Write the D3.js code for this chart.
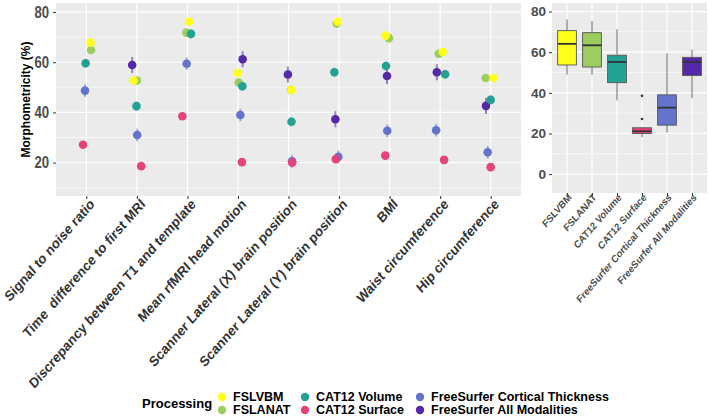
<!DOCTYPE html>
<html>
<head>
<meta charset="utf-8">
<script src="https://cdn.jsdelivr.net/npm/d3@7"></script>
<style>
  body { margin: 0; background: #fff; }
  text { font-family: "Liberation Sans", Arial, sans-serif; white-space: pre; }
</style>
</head>
<body>
<div id="chart"></div>
<script>
// covariates on the left panel
const covariates = [
  "Signal to noise ratio",
  "Time  difference to first MRI",
  "Discrepancy between T1 and template",
  "Mean rfMRI head motion",
  "Scanner Lateral (X) brain position",
  "Scanner Lateral (Y) brain position",
  "BMI",
  "Waist circumference",
  "Hip circumference"
];

const processing = [
  "FSLVBM",
  "FSLANAT",
  "CAT12 Volume",
  "CAT12 Surface",
  "FreeSurfer Cortical Thickness",
  "FreeSurfer All Modalities"
];

const colors = ["#FFFF1C", "#9BCD5F", "#23A294", "#E6437C", "#6573CD", "#5428A8"];

// morphometricity (%) per covariate, one array per processing
const fslvbm       = [67.8, 52.7, 76.1, 55.7, 49.0, 76.1, 70.6, 64.1, 53.7];
const fslanat      = [64.9, 52.7, 71.8, 51.9, 49.0, 75.4, 69.6, 63.4, 53.7];
const cat12Volume  = [59.6, 42.5, 71.3, 50.4, 36.3, 56.0, 58.5, 55.2, 45.0];
const cat12Surface = [27.1, 18.6, 38.5, 20.2, 20.0, 21.4, 22.8, 21.1, 18.2];
const fsThickness  = [48.7, 31.0, 59.4, 39.0, 20.5, 22.3, 32.7, 32.9, 24.1];
const fsAll        = [null, 58.9, null, 61.2, 55.1, 37.3, 54.5, 56.0, 42.6];

// standard error (half length of the bars)
const stdErr = [1.5, 1.5, 1.8, 1.2, 2.5, 3.2];

// horizontal jitter, in fractions of a category step
const jitFslvbm       = [0.085, -0.06, 0.032, 0, 0.059, -0.026, -0.079, 0.053, 0.059];
const jitFslanat      = [0.093, 0, -0.02, 0.014, 0.05, -0.046, -0.012, -0.026, -0.099];
const jitCat12Volume  = [-0.014, -0.008, 0.071, 0.087, 0.059, -0.093, -0.071, 0.099, 0];
const jitCat12Surface = [-0.065, 0.085, -0.1, 0.079, 0.073, -0.065, -0.085, 0.079, 0];
const jitFsThickness  = [-0.026, 0.006, -0.014, 0.048, 0.07, -0.014, -0.046, -0.079, -0.059];
const jitFsAll        = [0, -0.093, 0, 0.093, -0.012, -0.073, -0.051, -0.065, -0.093];

const leftTicks = [20, 40, 60, 80];
const leftMinor = [10, 30, 50, 70];
const rightTicks = [0, 20, 40, 60, 80];
const rightMinor = [10, 30, 50, 70];

const values = [fslvbm, fslanat, cat12Volume, cat12Surface, fsThickness, fsAll];
const jitters = [jitFslvbm, jitFslanat, jitCat12Volume, jitCat12Surface, jitFsThickness, jitFsAll];

const width = 709, height = 418;
const bg = "#EBEBEB", tickCol = "#4D4D4D";

const svg = d3.select("#chart").append("svg")
  .attr("width", width)
  .attr("height", height);

// ---------- left panel ----------
const L = {left: 56, right: 521, top: 3, bottom: 196};

const xL = d3.scalePoint().domain(covariates).range([L.left, L.right]).padding(0.6);
const yL = d3.scaleLinear().domain([6.7, 83.6]).range([L.bottom, L.top]);

svg.append("rect")
  .attr("x", L.left).attr("y", L.top)
  .attr("width", L.right - L.left).attr("height", L.bottom - L.top)
  .attr("fill", bg);

svg.append("g").selectAll("line").data(leftMinor).join("line")
  .attr("x1", L.left).attr("x2", L.right)
  .attr("y1", d => yL(d)).attr("y2", d => yL(d))
  .attr("stroke", "#fff").attr("stroke-width", 0.6);
svg.append("g").selectAll("line").data(leftTicks).join("line")
  .attr("x1", L.left).attr("x2", L.right)
  .attr("y1", d => yL(d)).attr("y2", d => yL(d))
  .attr("stroke", "#fff").attr("stroke-width", 1.2);
svg.append("g").selectAll("line").data(covariates).join("line")
  .attr("x1", d => xL(d)).attr("x2", d => xL(d))
  .attr("y1", L.top).attr("y2", L.bottom)
  .attr("stroke", "#fff").attr("stroke-width", 1.2);

// flatten points
const pts = [];
const drawOrder = [5, 4, 1, 2, 0, 3];
drawOrder.forEach(s => {
  covariates.forEach((c, i) => {
    const v = values[s][i];
    if (v == null) return;
    pts.push({s, c, v, j: jitters[s][i]});
  });
});

const step = xL.step();

svg.append("g").selectAll("line").data(pts).join("line")
  .attr("x1", d => xL(d.c) + d.j * step)
  .attr("x2", d => xL(d.c) + d.j * step)
  .attr("y1", d => yL(d.v - stdErr[d.s]))
  .attr("y2", d => yL(d.v + stdErr[d.s]))
  .attr("stroke", d => colors[d.s])
  .attr("stroke-opacity", 0.55)
  .attr("stroke-width", 2);

svg.append("g").selectAll("circle").data(pts).join("circle")
  .attr("cx", d => xL(d.c) + d.j * step)
  .attr("cy", d => yL(d.v))
  .attr("r", 4.3)
  .attr("fill", d => colors[d.s]);

const axL = svg.append("g")
  .attr("transform", `translate(${L.left},0)`)
  .call(d3.axisLeft(yL).tickValues(leftTicks).tickSize(3).tickPadding(3));
axL.select(".domain").remove();
axL.selectAll("line").attr("stroke", "#333");
axL.selectAll("text")
  .attr("fill", tickCol)
  .attr("font-size", 16)
  .attr("font-weight", "bold")
  .attr("font-family", "Liberation Sans, Arial, sans-serif")
  .attr("transform", "translate(-2,0) scale(0.82,1)");

const axLb = svg.append("g")
  .attr("transform", `translate(0,${L.bottom})`)
  .call(d3.axisBottom(xL).tickSize(3).tickFormat(""));
axLb.select(".domain").remove();
axLb.selectAll("line").attr("stroke", "#333");

svg.append("g").selectAll("text").data(covariates).join("text")
  .attr("transform", d => `translate(${xL(d) + 9},${L.bottom + 9}) scale(0.88,1) rotate(-45)`)
  .attr("text-anchor", "end")
  .attr("font-size", 14.4)
  .attr("font-weight", "bold")
  .attr("fill", "#333")
  .text(d => d);

svg.append("text")
  .attr("transform", `translate(30,${(L.top + L.bottom) / 2}) rotate(-90)`)
  .attr("text-anchor", "middle")
  .attr("font-size", 12)
  .attr("font-weight", "bold")
  .attr("fill", "#000")
  .text("Morphometricity (%)");

// ---------- right panel ----------
const R = {left: 552, right: 707, top: 3, bottom: 193};

const xR = d3.scalePoint().domain(processing).range([R.left, R.right]).padding(0.6);
const yR = d3.scaleLinear().domain([-9.3, 84.2]).range([R.bottom, R.top]);

svg.append("rect")
  .attr("x", R.left).attr("y", R.top)
  .attr("width", R.right - R.left).attr("height", R.bottom - R.top)
  .attr("fill", bg);

svg.append("g").selectAll("line").data(rightMinor).join("line")
  .attr("x1", R.left).attr("x2", R.right)
  .attr("y1", d => yR(d)).attr("y2", d => yR(d))
  .attr("stroke", "#fff").attr("stroke-width", 0.6);
svg.append("g").selectAll("line").data(rightTicks).join("line")
  .attr("x1", R.left).attr("x2", R.right)
  .attr("y1", d => yR(d)).attr("y2", d => yR(d))
  .attr("stroke", "#fff").attr("stroke-width", 1.2);
svg.append("g").selectAll("line").data(processing).join("line")
  .attr("x1", d => xR(d)).attr("x2", d => xR(d))
  .attr("y1", R.top).attr("y2", R.bottom)
  .attr("stroke", "#fff").attr("stroke-width", 1.2);

// box stats (R type 7 quantiles, same as d3.quantile)
const boxes = processing.map((p, s) => {
  const v = values[s].filter(d => d != null).sort(d3.ascending);
  const q1 = d3.quantile(v, 0.25), med = d3.quantile(v, 0.5), q3 = d3.quantile(v, 0.75);
  const iqr = q3 - q1;
  const inside = v.filter(d => d >= q1 - 1.5 * iqr && d <= q3 + 1.5 * iqr);
  return {
    p, s, q1, med, q3,
    lo: d3.min(inside), hi: d3.max(inside),
    out: v.filter(d => d < q1 - 1.5 * iqr || d > q3 + 1.5 * iqr)
  };
});

const bw = xR.step() * 0.75;
const gb = svg.append("g").selectAll("g").data(boxes).join("g");

gb.append("line")
  .attr("x1", d => xR(d.p)).attr("x2", d => xR(d.p))
  .attr("y1", d => yR(d.hi)).attr("y2", d => yR(d.q3))
  .attr("stroke", "#555").attr("stroke-width", 0.9);
gb.append("line")
  .attr("x1", d => xR(d.p)).attr("x2", d => xR(d.p))
  .attr("y1", d => yR(d.q1)).attr("y2", d => yR(d.lo))
  .attr("stroke", "#555").attr("stroke-width", 0.9);
gb.append("rect")
  .attr("x", d => xR(d.p) - bw / 2)
  .attr("y", d => yR(d.q3))
  .attr("width", bw)
  .attr("height", d => yR(d.q1) - yR(d.q3))
  .attr("fill", d => colors[d.s])
  .attr("stroke", "#555").attr("stroke-width", 0.9);
gb.append("line")
  .attr("x1", d => xR(d.p) - bw / 2).attr("x2", d => xR(d.p) + bw / 2)
  .attr("y1", d => yR(d.med)).attr("y2", d => yR(d.med))
  .attr("stroke", "#333").attr("stroke-width", 1.8);
gb.selectAll("circle").data(d => d.out.map(o => ({p: d.p, o}))).join("circle")
  .attr("cx", d => xR(d.p)).attr("cy", d => yR(d.o))
  .attr("r", 1.3).attr("fill", "#333");

const axR = svg.append("g")
  .attr("transform", `translate(${R.left},0)`)
  .call(d3.axisLeft(yR).tickValues(rightTicks).tickSize(3).tickPadding(3));
axR.select(".domain").remove();
axR.selectAll("line").attr("stroke", "#333");
axR.selectAll("text")
  .attr("fill", tickCol)
  .attr("font-size", 13.5)
  .attr("font-weight", "bold")
  .attr("font-family", "Liberation Sans, Arial, sans-serif");

const axRb = svg.append("g")
  .attr("transform", `translate(0,${R.bottom})`)
  .call(d3.axisBottom(xR).tickSize(3).tickFormat(""));
axRb.select(".domain").remove();
axRb.selectAll("line").attr("stroke", "#333");

svg.append("g").selectAll("text").data(processing).join("text")
  .attr("transform", d => `translate(${xR(d) + 5},${R.bottom + 5}) scale(0.87,1) rotate(-45)`)
  .attr("text-anchor", "end")
  .attr("font-size", 10.5)
  .attr("font-weight", "bold")
  .attr("fill", tickCol)
  .text(d => d);

// ---------- legend ----------
const legCols = [222, 305, 420];
const legRows = [397, 410];

svg.append("text")
  .attr("x", 142).attr("y", 408)
  .attr("font-size", 13)
  .attr("font-weight", "bold")
  .text("Processing");

const lg = svg.append("g").selectAll("g").data(processing).join("g")
  .attr("transform", (d, i) => `translate(${legCols[Math.floor(i / 2)]},${legRows[i % 2]})`);
lg.append("circle").attr("r", 4.2).attr("fill", (d, i) => colors[i]);
lg.append("text")
  .attr("x", 11).attr("y", 4.4)
  .attr("font-size", 12.5)
  .attr("font-weight", "bold")
  .text(d => d);
</script>
</body>
</html>
